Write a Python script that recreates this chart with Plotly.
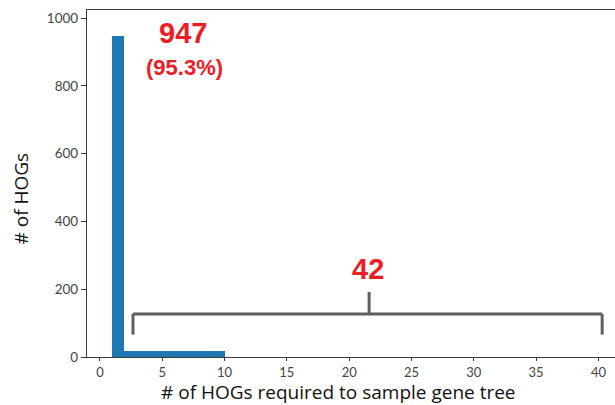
import numpy as np
import plotly.graph_objects as go

# Histogram of how many HOGs are needed to sample each gene tree
bin_edges = np.linspace(1.0, 10.0, 11)
counts = [947, 18, 18, 18, 18, 18, 18, 18, 18, 18]

single_hog_count = 947
single_hog_pct = 95.3
multi_hog_count = 42

# span of the bracket marking the multi-HOG trees (x units)
bracket_left, bracket_right, bracket_mid = 2.65, 40.3, 21.6
bracket_y, bracket_drop, bracket_rise = 127, 66, 192

x_ticks = list(range(0, 45, 5))
y_ticks = list(range(0, 1200, 200))

centers = (bin_edges[:-1] + bin_edges[1:]) / 2
widths = np.diff(bin_edges)

BLUE = "#1f77b4"
RED = "#ee1c24"
GREY = "#5e5e5e"
AXIS = "#3a3a3a"

fig = go.Figure()
fig.add_trace(go.Bar(
    x=centers, y=counts, width=widths,
    marker=dict(color=BLUE, line=dict(width=0)),
    hoverinfo="skip",
))

# bracket over the long tail
bracket_style = dict(type="line", xref="x", yref="y",
                     line=dict(color=GREY, width=3))
fig.add_shape(x0=bracket_left, x1=bracket_right, y0=bracket_y, y1=bracket_y, **bracket_style)
fig.add_shape(x0=bracket_left, x1=bracket_left, y0=bracket_y, y1=bracket_drop, **bracket_style)
fig.add_shape(x0=bracket_right, x1=bracket_right, y0=bracket_y, y1=bracket_drop, **bracket_style)
fig.add_shape(x0=bracket_mid, x1=bracket_mid, y0=bracket_y, y1=bracket_rise, **bracket_style)

red_font = dict(family="Liberation Sans", color=RED)
fig.add_annotation(x=6.66, y=957, text=f"<b>{single_hog_count}</b>", showarrow=False,
                   font=dict(size=29, **red_font), xanchor="center", yanchor="middle")
fig.add_annotation(x=6.78, y=854, text=f"<b>({single_hog_pct}%)</b>", showarrow=False,
                   font=dict(size=22, **red_font), xanchor="center", yanchor="middle")
fig.add_annotation(x=bracket_mid - 0.1, y=261, text=f"<b>{multi_hog_count}</b>", showarrow=False,
                   font=dict(size=29, **red_font), xanchor="center", yanchor="middle")

title_font = dict(family="Open Sans", size=19, color="#111111")
fig.add_annotation(xref="paper", yref="paper", x=(338.5 - 87) / 528, y=-(392.5 - 357) / 347,
                   text="# of HOGs required to sample gene tree", showarrow=False,
                   font=title_font, xanchor="center", yanchor="middle", borderpad=0)
fig.add_annotation(xref="paper", yref="paper", x=-(87 - 20) / 528, y=(357 - 198.5) / 347,
                   text="# of HOGs", textangle=-90, showarrow=False,
                   font=dict(family="Open Sans", size=19, color="#111111"),
                   xanchor="center", yanchor="middle", borderpad=0)

tick_font = dict(family="Lato", size=13, color="#444444")
fig.update_xaxes(
    range=[-1.04, 41.33], tickvals=x_ticks, ticks="outside", ticklen=3, tickwidth=1,
    tickcolor=AXIS, showline=True, linecolor=AXIS, linewidth=1.2, mirror=True,
    showgrid=False, zeroline=False, tickfont=tick_font,
)
fig.update_yaxes(
    range=[0, 1023.6], tickvals=y_ticks, ticks="outside", ticklen=5, tickwidth=1,
    tickcolor=AXIS, showline=True, linecolor=AXIS, linewidth=1.2,
    showgrid=False, zeroline=False, tickfont=dict(family="Lato", size=13.5, color="#444444"),
)
fig.update_layout(
    width=615, height=405,
    margin=dict(l=87, r=0, t=10, b=48),
    paper_bgcolor="white", plot_bgcolor="white",
    showlegend=False, bargap=0,
)

fig.write_html("out.html")
